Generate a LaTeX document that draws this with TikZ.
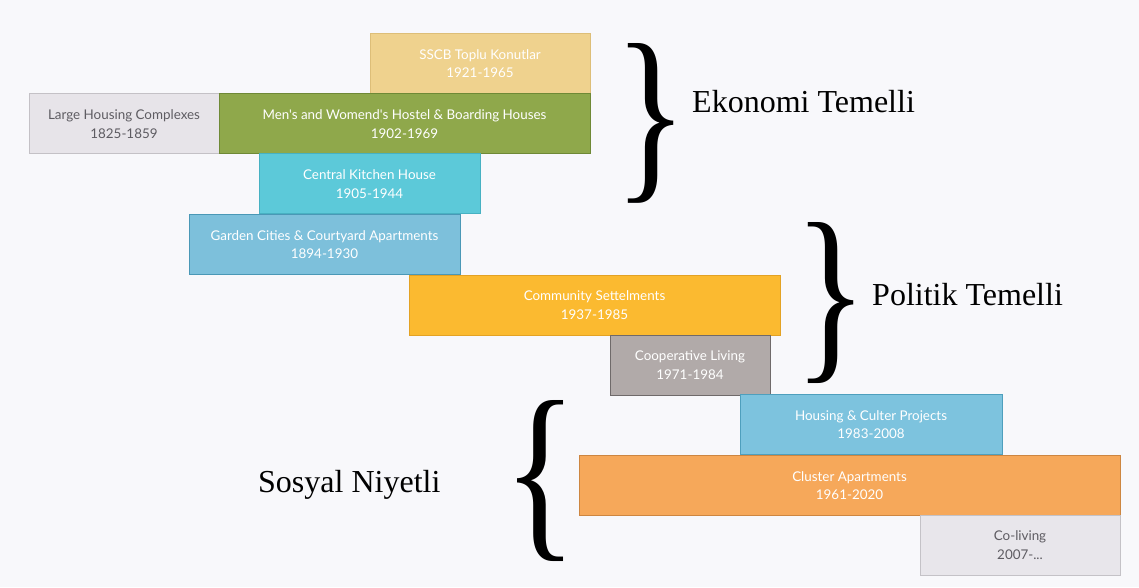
\documentclass[tikz,border=0pt]{standalone}
\usepackage{fontspec}
\usepackage{graphicx}
\setmainfont{Liberation Serif}
\newfontfamily\boxfont{Lato}

\definecolor{bg}{HTML}{F8F8FB}
\definecolor{sscbfill}{HTML}{EFD28E}
\definecolor{sscbline}{HTML}{DDBE78}
\definecolor{largefill}{HTML}{E7E4E9}
\definecolor{largeline}{HTML}{C4C1C6}
\definecolor{hostelfill}{HTML}{8FA84B}
\definecolor{hostelline}{HTML}{6F8936}
\definecolor{kitchenfill}{HTML}{5CC9D9}
\definecolor{kitchenline}{HTML}{47B1C2}
\definecolor{gardenfill}{HTML}{7DC0DB}
\definecolor{gardenline}{HTML}{4A98B6}
\definecolor{communityfill}{HTML}{FBBA30}
\definecolor{communityline}{HTML}{E3A224}
\definecolor{coopfill}{HTML}{B1AAA9}
\definecolor{coopline}{HTML}{6F6A6A}
\definecolor{culturefill}{HTML}{7DC3DE}
\definecolor{cultureline}{HTML}{4E9FBD}
\definecolor{clusterfill}{HTML}{F6A85A}
\definecolor{clusterline}{HTML}{CD8641}
\definecolor{colivingfill}{HTML}{E8E6EB}
\definecolor{colivingline}{HTML}{C4C2C7}
\definecolor{greytext}{HTML}{5E5C62}

\tikzstyle{period} = [rectangle, draw, line width=1pt, inner sep=0pt, minimum height=60pt, align=center, text=white, font=\boxfont\fontsize{13.4}{18.5}\selectfont]
\tikzstyle{brace} = [inner sep=0pt]
\tikzstyle{group} = [anchor=base west, inner sep=0pt, font=\fontsize{32}{38}\selectfont]

\begin{document}
\begin{tikzpicture}[x=1pt,y=1pt]
      \fill[bg] (0,0) rectangle (1139,587);
      \useasboundingbox (0,0) rectangle (1139,587);

      \node[period, fill=sscbfill, draw=sscbline, minimum width=220pt] (sscb) at (480,523.5) {SSCB Toplu Konutlar\\1921-1965};
      \node[period, fill=largefill, draw=largeline, text=greytext, minimum width=190pt] (large) at (124,463) {Large Housing Complexes\\1825-1859};
      \node[period, fill=hostelfill, draw=hostelline, minimum width=371pt] (hostel) at (404.5,463) {Men's and Womend's Hostel \& Boarding Houses\\1902-1969};
      \node[period, fill=kitchenfill, draw=kitchenline, minimum width=221pt] (kitchen) at (369.5,403) {Central Kitchen House\\1905-1944};
      \node[period, fill=gardenfill, draw=gardenline, minimum width=271pt] (garden) at (324.5,342.5) {Garden Cities \& Courtyard Apartments\\1894-1930};
      \node[period, fill=communityfill, draw=communityline, minimum width=371pt] (community) at (594.5,282) {Community Settelments\\1937-1985};
      \node[period, fill=coopfill, draw=coopline, minimum width=160pt] (coop) at (690,222) {Cooperative Living\\1971-1984};
      \node[period, fill=culturefill, draw=cultureline, minimum width=262pt] (culture) at (871,162.5) {Housing \& Culter Projects\\1983-2008};
      \node[period, fill=clusterfill, draw=clusterline, minimum width=541pt] (cluster) at (849.5,101.5) {Cluster Apartments\\1961-2020};
      \node[period, fill=colivingfill, draw=colivingline, text=greytext, minimum width=200pt] (coliving) at (1020,42) {Co-living\\2007-...};

      \node[brace] (ekobrace) at (651,464) {\resizebox{73pt}{134pt}{\}}};
      \node[brace] (polbrace) at (831,283.5) {\resizebox{73pt}{135pt}{\}}};
      \node[brace] (sosbrace) at (541,105.5) {\resizebox{74pt}{135pt}{\{}};

      \node[group] (eko) at (692,474) {Ekonomi Temelli};
      \node[group] (pol) at (872,282) {Politik Temelli};
      \node[group] (sos) at (258,95) {Sosyal Niyetli};
    \end{tikzpicture}
\end{document}
